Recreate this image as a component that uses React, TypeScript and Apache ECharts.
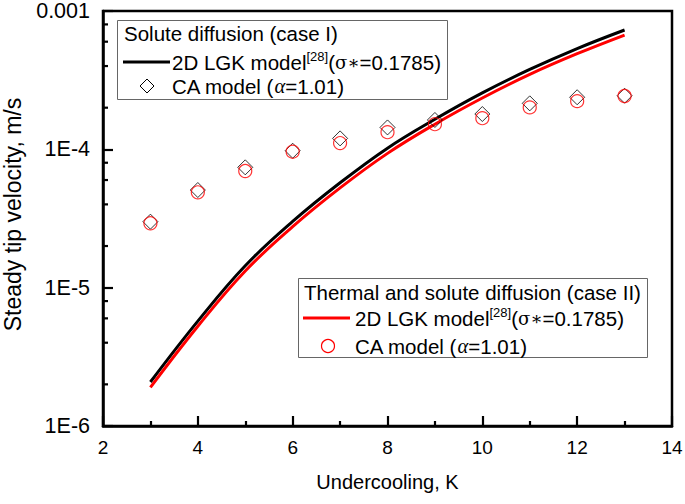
import React, { useEffect, useRef } from 'react';
import * as echarts from 'echarts';

const undercooling = [3, 4, 5, 6, 7, 8, 9, 10, 11, 12, 13];
const lgkSolute = [2.08e-6, 5.73e-6, 1.44e-5, 3.01e-5, 5.73e-5, 1.02e-4, 1.65e-4, 2.56e-4, 3.78e-4, 5.35e-4, 7.29e-4];
const lgkThermal = [1.9e-6, 5.26e-6, 1.32e-5, 2.76e-5, 5.26e-5, 9.35e-5, 1.52e-4, 2.35e-4, 3.48e-4, 4.91e-4, 6.7e-4];
const caSolute = [3.0e-5, 5.08e-5, 7.41e-5, 9.77e-5, 1.2e-4, 1.44e-4, 1.63e-4, 1.8e-4, 2.15e-4, 2.38e-4, 2.44e-4];
const caThermal = [2.92e-5, 4.89e-5, 6.97e-5, 9.61e-5, 1.11e-4, 1.33e-4, 1.52e-4, 1.68e-4, 2.01e-4, 2.23e-4, 2.43e-4];

const yTickValues = [1e-6, 1e-5, 1e-4, 1e-3];
const yTickLabels = ['1E-6', '1E-5', '1E-4', '0.001'];
const yMinorTicks = [
  2e-6, 4e-6, 6e-6, 8e-6,
  2e-5, 4e-5, 6e-5, 8e-5,
  2e-4, 4e-4, 6e-4, 8e-4,
];

const FONT = 'Liberation Sans, Arial, sans-serif';

export default function App() {
  const ref = useRef<HTMLDivElement>(null);
  useEffect(() => {
    if (!ref.current) return;
    const chart = echarts.init(ref.current, null, { renderer: 'svg' });
    const pairs = (ys: number[]) => undercooling.map((x, i) => [x, ys[i]]);
    const rich = {
      n: { fontSize: 20.5, fontFamily: FONT, fill: '#000', lineHeight: 24 },
      s: { fontSize: 13, fontFamily: FONT, fill: '#000', verticalAlign: 'top', lineHeight: 24, padding: [0, 0, 12, 0] },
      g: { fontSize: 18, fontFamily: 'DejaVu Serif, serif', fill: '#000', lineHeight: 24 },
      i: { fontSize: 20.5, fontFamily: 'Liberation Serif, serif', fontStyle: 'italic', fill: '#000', lineHeight: 24 },
    };
    const lgkText = '{n|2D LGK model}{s|[28]}{n|(}{g|σ∗}{n|=0.1785)}';
    const caText = '{n|CA model (}{i|α}{n|=1.01)}';
    const option: any = {
      animation: false,
      backgroundColor: '#fff',
      textStyle: { fontFamily: FONT },
      grid: {
        left: 103, right: 13, top: 11, bottom: 78,
        containLabel: false, outerBoundsMode: 'none',
        show: true, borderColor: '#000', borderWidth: 2.5, backgroundColor: 'transparent',
      },
      xAxis: {
        type: 'value', min: 2, max: 14, interval: 2,
        name: 'Undercooling, K', nameLocation: 'middle', nameGap: 46,
        nameTextStyle: { fontSize: 20, color: '#000', fontFamily: FONT },
        axisLine: { show: true, lineStyle: { color: '#000', width: 2.5 } },
        axisTick: { show: true, inside: true, length: 10, lineStyle: { color: '#000', width: 2.2 } },
        minorTick: { show: true, splitNumber: 2, length: 5, lineStyle: { color: '#000', width: 2.2 } },
        axisLabel: { fontSize: 19, color: '#000', margin: 12, fontFamily: FONT },
        splitLine: { show: false },
      },
      yAxis: {
        type: 'log', logBase: 10, min: 1e-6, max: 1e-3,
        name: 'Steady tip velocity, m/s', nameLocation: 'middle', nameGap: 74,
        nameTextStyle: { fontSize: 23, lineHeight: 25, color: '#000', fontFamily: FONT, padding: [0, 0, 0, 8] },
        axisLine: { show: true, lineStyle: { color: '#000', width: 2.5 } },
        axisTick: { show: true, inside: true, length: 10, lineStyle: { color: '#000', width: 2.2 } },
        axisLabel: {
          fontSize: 21.5, color: '#000', margin: 13, fontFamily: FONT,
          formatter: (v: number) => {
            const idx = yTickValues.findIndex((t) => Math.abs(Math.log10(t) - Math.log10(v)) < 1e-6);
            return idx >= 0 ? yTickLabels[idx] : '';
          },
        },
        splitLine: { show: false },
      },
      graphic: [
        {
          type: 'group', z: 100,
          children: [
            { type: 'rect', shape: { x: 117.5, y: 20.5, width: 330, height: 79 }, style: { fill: '#fff', stroke: '#666', lineWidth: 1 } },
            { type: 'text', x: 124, y: 33, style: { text: 'Solute diffusion (case I)', font: `20.5px ${FONT}`, fill: '#000', verticalAlign: 'middle' } },
            { type: 'line', shape: { x1: 123, y1: 62, x2: 170, y2: 62 }, style: { stroke: '#000', lineWidth: 3 } },
            { type: 'text', x: 172, y: 62, style: { text: lgkText, rich, verticalAlign: 'middle' } },
            { type: 'polygon', shape: { points: [[147, 79], [154, 86], [147, 93], [140, 86]] }, style: { fill: 'none', stroke: '#000', lineWidth: 1 } },
            { type: 'text', x: 172, y: 86, style: { text: caText, rich, verticalAlign: 'middle' } },

            { type: 'rect', shape: { x: 298.5, y: 278.5, width: 349, height: 79 }, style: { fill: '#fff', stroke: '#666', lineWidth: 1 } },
            { type: 'text', x: 304, y: 292, style: { text: 'Thermal and solute diffusion (case II)', font: `20.5px ${FONT}`, fill: '#000', verticalAlign: 'middle' } },
            { type: 'line', shape: { x1: 303, y1: 318, x2: 350, y2: 318 }, style: { stroke: '#ff0000', lineWidth: 3 } },
            { type: 'text', x: 355, y: 318, style: { text: lgkText, rich, verticalAlign: 'middle' } },
            { type: 'circle', shape: { cx: 328, cy: 346, r: 6.5 }, style: { fill: 'none', stroke: '#ff0000', lineWidth: 1.2 } },
            { type: 'text', x: 355, y: 346, style: { text: caText, rich, verticalAlign: 'middle' } },
          ],
        },
      ],
      series: [
        {
          name: '2D LGK model (case I)', type: 'line', data: pairs(lgkSolute),
          symbol: 'none', smooth: 0.4, lineStyle: { color: '#000', width: 3 }, z: 2,
        },
        {
          name: '2D LGK model (case II)', type: 'line', data: pairs(lgkThermal),
          symbol: 'none', smooth: 0.4, lineStyle: { color: '#ff0000', width: 3 }, z: 3,
        },
        {
          name: 'CA model (case I)', type: 'scatter', data: pairs(caSolute),
          symbol: 'diamond', symbolSize: 15,
          itemStyle: { color: 'rgba(0,0,0,0)', borderColor: '#000', borderWidth: 1 }, z: 4,
        },
        {
          name: 'CA model (case II)', type: 'scatter', data: pairs(caThermal),
          symbol: 'circle', symbolSize: 13,
          itemStyle: { color: 'rgba(0,0,0,0)', borderColor: '#ff0000', borderWidth: 1.2 }, z: 5,
        },
        {
          name: 'y minor ticks', type: 'custom', data: yMinorTicks.map((v) => [2, v]),
          silent: true, clip: false, z: 10,
          renderItem: (params: any, api: any) => {
            const p = api.coord([2, api.value(1)]);
            return {
              type: 'line',
              shape: { x1: p[0], y1: p[1], x2: p[0] + 5, y2: p[1] },
              style: { stroke: '#000', lineWidth: 2.2 },
            };
          },
        },
      ],
    };
    chart.setOption(option);
    return () => chart.dispose();
  }, []);
  return <div ref={ref} style={{ width: 685, height: 504, position: 'absolute', left: 0, top: 0 }} />;
}
